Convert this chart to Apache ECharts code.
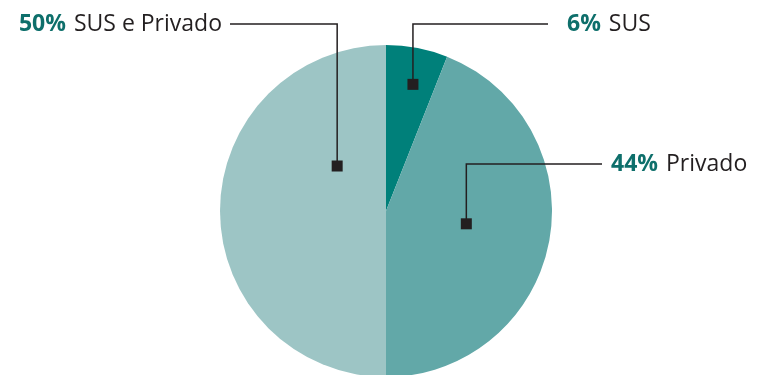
<!DOCTYPE html>
<html>
<head>
<meta charset="utf-8">
<script src="https://cdn.jsdelivr.net/npm/echarts@6/dist/echarts.min.js"></script>
<style>html,body{margin:0;padding:0;background:#fff;}#c{width:757px;height:375px;}</style>
</head>
<body>
<div id="c"></div>
<script>
var categories = ['SUS', 'Privado', 'SUS e Privado'];
var values = [6, 44, 50];
var percentLabels = ['6%', '44%', '50%'];

var colors = ['#00807a', '#62a8a8', '#9dc5c5'];
// marker anchor within each slice: fraction of slice angle, fraction of radius
var anchors = [
  {af: 0.556, rf: 0.78, lineY: 24, lineEndX: 548, textX: 567, align: 'left'},
  {af: 0.489, rf: 0.49, lineY: 164, lineEndX: 602, textX: 611, align: 'left'},
  {af: 0.737, rf: 0.40, lineY: 24, lineEndX: 230, textX: 222, align: 'right'}
];

var chart = echarts.init(document.getElementById('c'), null, {renderer: 'canvas'});
var CX = 386, CY = 211, R = 166;
chart.setOption({
  animation: false,
  series: [{
    type: 'pie',
    center: [CX, CY],
    radius: R,
    startAngle: 90,
    clockwise: true,
    silent: true,
    z: 1,
    label: {show: false},
    labelLine: {show: false},
    itemStyle: {borderWidth: 0},
    data: categories.map(function (c, i) {
      return {name: c, value: values[i], itemStyle: {color: colors[i]}};
    })
  }]
});

function layouts() {
  var res = [];
  try {
    var d = chart.getModel().getSeriesByIndex(0).getData();
    for (var i = 0; i < values.length; i++) res.push(d.getItemLayout(i));
    if (res[0] && res[0].cx != null) return res;
  } catch (e) {}
  res = [];
  var total = values.reduce(function (a, b) { return a + b; }, 0);
  var a = -Math.PI / 2;
  for (var j = 0; j < values.length; j++) {
    var span = values[j] / total * Math.PI * 2;
    res.push({cx: CX, cy: CY, r: R, startAngle: a, endAngle: a + span});
    a += span;
  }
  return res;
}

var L = layouts();
var graphics = [];
var ink = '#231f20';
L.forEach(function (l, i) {
  var an = anchors[i];
  var ang = l.startAngle + an.af * (l.endAngle - l.startAngle);
  var mx = l.cx + an.rf * l.r * Math.cos(ang);
  var my = l.cy + an.rf * l.r * Math.sin(ang);
  graphics.push({
    type: 'polyline',
    silent: true,
    z: 100,
    shape: {points: [[mx, my], [mx, an.lineY], [an.lineEndX, an.lineY]]},
    style: {stroke: ink, lineWidth: 1.5, fill: null}
  });
  graphics.push({
    type: 'rect',
    silent: true,
    z: 101,
    shape: {x: mx - 5.5, y: my - 5.5, width: 11, height: 11},
    style: {fill: ink}
  });
  graphics.push({
    type: 'text',
    silent: true,
    z: 101,
    x: an.textX,
    y: an.lineY,
    style: {
      text: '{p|' + percentLabels[i] + '}{n|' + categories[i] + '}',
      align: an.align,
      verticalAlign: 'middle',
      rich: {
        p: {fontFamily: 'Open Sans', fontSize: 23, fontWeight: 'bold', fill: '#0e6f6b', padding: [0, 8, 0, 0]},
        n: {fontFamily: 'Open Sans', fontSize: 23, fill: ink}
      }
    }
  });
});
chart.setOption({graphic: graphics});
</script>
</body>
</html>
